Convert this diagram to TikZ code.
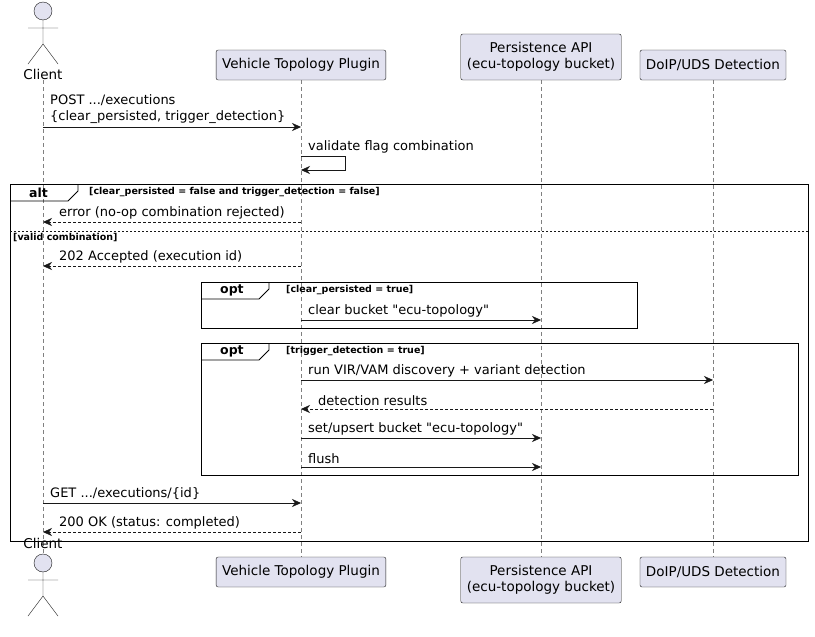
\documentclass[tikz,border=0pt]{standalone}
\usepackage{fontspec}
\setmainfont{DejaVu Sans}[Ligatures=TeXOff]
\usetikzlibrary{arrows.meta}
\definecolor{partfill}{HTML}{E2E2F0}
\definecolor{partline}{HTML}{181818}
\tikzset{
  partbox/.style={draw=partline, fill=partfill, rounded corners=2pt, minimum height=30pt, align=center, inner xsep=6pt, font=\fontsize{13.5}{16}\selectfont},
  lifeline/.style={draw=gray, dashed, dash pattern=on 4pt off 3pt, thin},
  msg/.style={-{Stealth[length=9pt,width=8pt]}, draw=partline},
  reply/.style={msg, dashed, dash pattern=on 3pt off 2pt},
  msgtext/.style={anchor=south west, inner sep=1pt, align=left, font=\fontsize{13}{16}\selectfont},
  fragbox/.style={draw=black, thick},
  guardtext/.style={anchor=west, inner sep=1pt, font=\fontsize{9.5}{11}\bfseries\selectfont},
  tabtext/.style={anchor=west, inner sep=1pt, font=\fontsize{12.5}{14}\bfseries\selectfont}
}
\newcommand{\fragment}[6]{% name, x1, y1, x2, y2, keyword
  \draw[fragbox] (#2,#3) rectangle (#4,#5);
  \draw[fragbox] (#2,#3+17) -- (#2+58,#3+17) -- (#2+68,#3+7) -- (#2+68,#3);
  \node[tabtext] (#1) at (#2+18,#3+8.5) {#6};
}
\begin{document}
\begin{tikzpicture}[x=1pt,y=-1pt]
	\useasboundingbox (0,0) rectangle (815,637);
	% lifelines
	\draw[lifeline] (43,80) -- (43,557);
	\draw[lifeline] (301,80) -- (301,557);
	\draw[lifeline] (541,80) -- (541,557);
	\draw[lifeline] (713,80) -- (713,557);
	% participants top and bottom
	\foreach \y/\pos in {65/top, 572/bot} {
		\node[partbox] (vtp\pos) at (301,\y) {Vehicle Topology Plugin};
		\node[partbox] (dip\pos) at (713,\y) {DoIP/UDS Detection};
	}
	\node[partbox, minimum height=46pt] (pertop) at (541,57) {Persistence API\\(ecu-topology bucket)};
	\node[partbox, minimum height=46pt] (perbot) at (541,580) {Persistence API\\(ecu-topology bucket)};
	% actor Client
	\foreach \y/\ly/\pos in {11/74/top, 563/543/bot} {
		\draw[partline, fill=partfill] (43,\y) circle (9);
		\draw[partline] (43,\y+9) -- (43,\y+33) (28,\y+17) -- (58,\y+17)
			(43,\y+33) -- (28,\y+53) (43,\y+33) -- (58,\y+53);
		\node[font=\fontsize{13.5}{16}\selectfont] (cli\pos) at (43,\ly) {Client};
	}
	% message anchors
	\foreach \y in {127,156,170,222,266,320,380,409,438,467,503,532} {
		\coordinate (c\y) at (43,\y);
		\coordinate (v\y) at (301,\y);
		\coordinate (p\y) at (541,\y);
		\coordinate (d\y) at (713,\y);
	}
	\coordinate (self1) at (345,156);
	\coordinate (self2) at (345,170);
	% messages
	\draw[msg] (c127) -- (v127);
	\node[msgtext] (m1) at (49,125) {POST .../executions\\\{clear\_persisted, trigger\_detection\}};
	\draw[msg] (v156) -- (self1) -- (self2) -- (v170);
	\node[msgtext] (m2) at (307,154) {validate flag combination};
	% alt
	\fragment{altkw}{10}{184}{808}{541}{alt}
	\node[guardtext] (g1) at (88,192) {[clear\_persisted = false and trigger\_detection = false]};
	\draw[reply] (v222) -- (c222);
	\node[msgtext] (m3) at (58,220) {error (no-op combination rejected)};
	\draw[dashed, dash pattern=on 2pt off 2pt, partline] (10,231) -- (808,231);
	\node[guardtext] (g2) at (12,238) {[valid combination]};
	\draw[reply] (v266) -- (c266);
	\node[msgtext] (m4) at (58,264) {202 Accepted (execution id)};
	% opt 1
	\fragment{opt1kw}{201}{282}{637}{328}{opt}
	\node[guardtext] (g3) at (285,290) {[clear\_persisted = true]};
	\draw[msg] (v320) -- (p320);
	\node[msgtext] (m5) at (307,318) {clear bucket "ecu-topology"};
	% opt 2
	\fragment{opt2kw}{201}{343}{798}{475}{opt}
	\node[guardtext] (g4) at (285,351) {[trigger\_detection = true]};
	\draw[msg] (v380) -- (d380);
	\node[msgtext] (m6) at (307,378) {run VIR/VAM discovery + variant detection};
	\draw[reply] (d409) -- (v409);
	\node[msgtext] (m7) at (317,407) {detection results};
	\draw[msg] (v438) -- (p438);
	\node[msgtext] (m8) at (307,436) {set/upsert bucket "ecu-topology"};
	\draw[msg] (v467) -- (p467);
	\node[msgtext] (m9) at (307,465) {flush};
	% tail
	\draw[msg] (c503) -- (v503);
	\node[msgtext] (m10) at (49,501) {GET .../executions/\{id\}};
	\draw[reply] (v532) -- (c532);
	\node[msgtext] (m11) at (58,530) {200 OK (status: completed)};
\end{tikzpicture}
\end{document}
